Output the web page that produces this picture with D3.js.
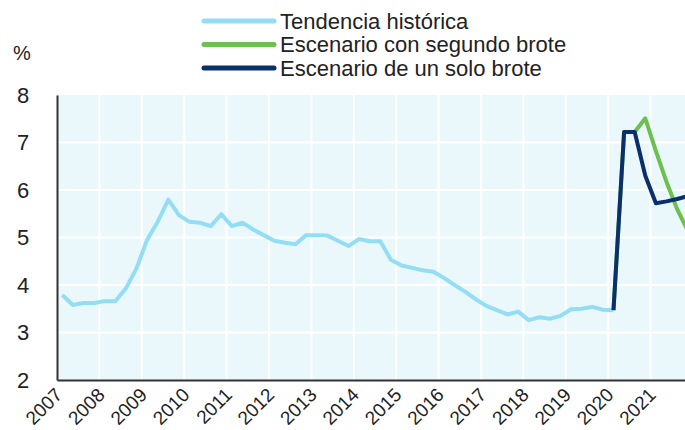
<!DOCTYPE html>
<html>
<head>
<meta charset="utf-8">
<script src="https://cdn.jsdelivr.net/npm/d3@7"></script>
<style>
    body { margin: 0; background: #fff; }
    svg { display: block; font-family: "Liberation Sans", Arial, sans-serif; }
</style>
</head>
<body>
<div id="chart"></div>
<script>
// quarterly data, first value = Q1 of the start year
const startHistorico = 2007;
const historico = [
    3.79, 3.58, 3.62, 3.62, 3.66, 3.66, 3.93, 4.35,
    4.95, 5.33, 5.80, 5.47, 5.33, 5.31, 5.24, 5.49,
    5.24, 5.31, 5.17, 5.05, 4.93, 4.89, 4.86, 5.05,
    5.05, 5.04, 4.93, 4.82, 4.97, 4.92, 4.92, 4.53,
    4.41, 4.36, 4.31, 4.28, 4.15, 4.00, 3.86, 3.70,
    3.56, 3.47, 3.38, 3.44, 3.26, 3.32, 3.29, 3.35,
    3.49, 3.50, 3.54, 3.48, 3.47
];
const startEscenarios = 2020;
const segundoBrote = [3.47, 7.22, 7.22, 7.51, 6.82, 6.17, 5.60, 5.15];
const unSoloBrote = [3.47, 7.22, 7.22, 6.30, 5.72, 5.76, 5.81, 5.87];

const years = [2007, 2008, 2009, 2010, 2011, 2012, 2013, 2014, 2015, 2016, 2017, 2018, 2019, 2020, 2021];
const yTicks = [2, 3, 4, 5, 6, 7, 8];

const legendItems = [
    { label: 'Tendencia histórica', color: '#93def5' },
    { label: 'Escenario con segundo brote', color: '#6cc04f' },
    { label: 'Escenario de un solo brote', color: '#0a2f6b' }
];

const width = 685, height = 430;

let svg = d3.select('#chart')
    .append('svg')
    .attr('width', width)
    .attr('height', height);

let xScale = d3.scaleLinear().domain([2007, 2022]).range([57, 693]);
let yScale = d3.scaleLinear().domain([2, 8]).range([380, 95]);

function toPoints(values, start) {
    return values.map((v, i) => ({ t: start + (i + 0.5) / 4, v: v }));
}

// plot background
svg.append('rect')
    .attr('x', xScale(2007))
    .attr('y', yScale(8))
    .attr('width', xScale(2022) - xScale(2007))
    .attr('height', yScale(2) - yScale(8))
    .style('fill', '#eaf8fc');

// grid
svg.append('g')
    .selectAll('line')
    .data(years.slice(1).concat([2022]))
    .enter()
    .append('line')
    .attr('x1', (d) => xScale(d))
    .attr('x2', (d) => xScale(d))
    .attr('y1', yScale(8))
    .attr('y2', yScale(2))
    .style('stroke', '#fff')
    .style('stroke-width', 2);

svg.append('g')
    .selectAll('line')
    .data(yTicks.slice(1, -1))
    .enter()
    .append('line')
    .attr('x1', xScale(2007))
    .attr('x2', xScale(2022))
    .attr('y1', (d) => yScale(d))
    .attr('y2', (d) => yScale(d))
    .style('stroke', '#fff')
    .style('stroke-width', 2);

// axes
let yAxis = svg.append('g')
    .attr('transform', `translate(${xScale(2007)}, 0)`)
    .call(d3.axisLeft(yScale).tickValues(yTicks).tickFormat(d3.format('d')).tickSize(0).tickPadding(0));
yAxis.select('.domain').style('stroke', '#333').style('stroke-width', 2);
yAxis.selectAll('text')
    .attr('x', -34)
    .attr('text-anchor', 'middle')
    .style('font-size', '22px')
    .style('fill', '#222')
    .style('font-family', '"Liberation Sans", Arial, sans-serif');

let xAxis = svg.append('g')
    .attr('transform', `translate(0, ${yScale(2)})`)
    .call(d3.axisBottom(xScale).tickValues(years).tickFormat(d3.format('d')).tickSize(0));
xAxis.select('.domain').style('stroke', '#333').style('stroke-width', 2);
xAxis.selectAll('text')
    .attr('y', 0)
    .attr('dy', 0)
    .attr('text-anchor', 'end')
    .attr('transform', 'translate(6, 16) rotate(-45)')
    .style('font-size', '19px')
    .style('fill', '#222')
    .style('font-family', '"Liberation Sans", Arial, sans-serif');

// lines
let line = d3.line()
    .x((d) => xScale(d.t))
    .y((d) => yScale(d.v));

svg.append('path')
    .datum(toPoints(historico, startHistorico))
    .attr('d', line)
    .style('fill', 'none')
    .style('stroke', legendItems[0].color)
    .style('stroke-width', 4)
    .style('stroke-linejoin', 'round');

svg.append('path')
    .datum(toPoints(segundoBrote, startEscenarios))
    .attr('d', line)
    .style('fill', 'none')
    .style('stroke', legendItems[1].color)
    .style('stroke-width', 4)
    .style('stroke-linejoin', 'round');

svg.append('path')
    .datum(toPoints(unSoloBrote, startEscenarios))
    .attr('d', line)
    .style('fill', 'none')
    .style('stroke', legendItems[2].color)
    .style('stroke-width', 4)
    .style('stroke-linejoin', 'round');

// unit label
svg.append('text')
    .attr('x', 22)
    .attr('y', 60)
    .attr('text-anchor', 'middle')
    .style('font-size', '20px')
    .style('fill', '#222')
    .text('%');

// legend
let legend = svg.append('g')
    .selectAll('g')
    .data(legendItems)
    .enter()
    .append('g')
    .attr('transform', (d, i) => `translate(204, ${21 + i * 23.5})`);

legend.append('line')
    .attr('x1', 0)
    .attr('x2', 70)
    .style('stroke', (d) => d.color)
    .style('stroke-width', 5)
    .style('stroke-linecap', 'round');

legend.append('text')
    .attr('x', 76)
    .attr('dy', '0.35em')
    .style('font-size', '22px')
    .style('fill', '#222')
    .text((d) => d.label);
</script>
</body>
</html>
